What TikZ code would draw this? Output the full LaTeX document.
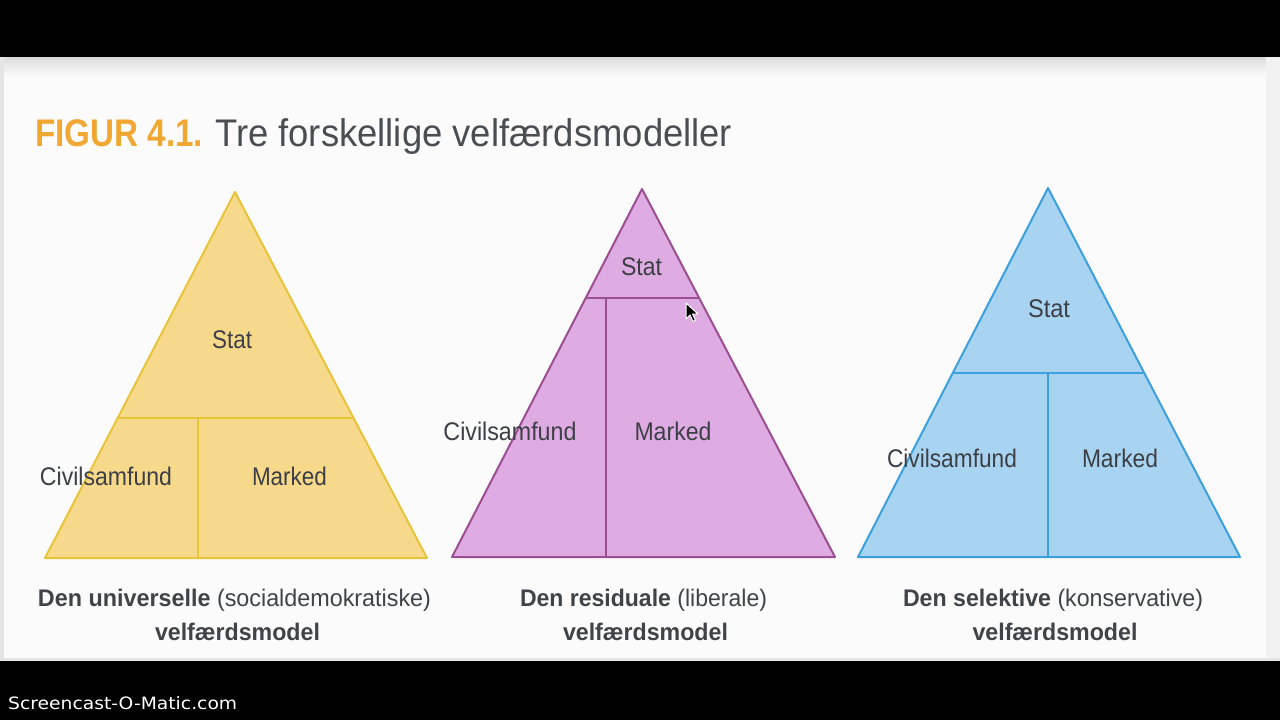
\documentclass[tikz,border=0pt]{standalone}
\usepackage{fontspec}
\setmainfont{Liberation Sans}
\newfontfamily\scfont{DejaVu Sans}
\usepackage{graphicx}
\usetikzlibrary{calc}
\definecolor{paper}{HTML}{FBFBFB}
\definecolor{orangetitle}{HTML}{F0A833}
\definecolor{titlegray}{HTML}{4A4E52}
\definecolor{labelgray}{HTML}{3C3F45}
\definecolor{capgray}{HTML}{404347}
\definecolor{yfill}{HTML}{F7D98C}
\definecolor{ydraw}{HTML}{E8C43A}
\definecolor{pfill}{HTML}{DEACE2}
\definecolor{pdraw}{HTML}{9C4E93}
\definecolor{bfill}{HTML}{A8D4F2}
\definecolor{bdraw}{HTML}{3CA0DC}
\newcommand{\fitw}[2]{\resizebox{#1pt}{\height}{#2}}
\begin{document}
\begin{tikzpicture}[x=1pt,y=-1pt,
  tri/.style={line width=2pt, line join=round},
  divline/.style={line width=2pt},
  lbl/.style={inner sep=0pt, anchor=base, text=labelgray, font=\fontsize{25.5}{30}\selectfont},
  capline/.style={inner sep=0pt, anchor=base, text=capgray, font=\fontsize{24}{28}\selectfont},
  titletext/.style={inner sep=0pt, anchor=base west, font=\fontsize{38.5}{44}\selectfont}]
\useasboundingbox (0,0) rectangle (1280,720);
% screen frame
\fill[black] (0,0) rectangle (1280,720);
\fill[paper] (0,57) rectangle (1280,661);
\foreach \i/\g in {0/86,3/89,6/91.5,9/93.5,12/95,15/96.5,18/98}{
  \fill[color=white!\g!black] (0,57+\i) rectangle (1280,60+\i);
}
\fill[white!90!black] (0,57) rectangle (4,661);
\fill[white!95!black] (1266,57) rectangle (1280,661);
\fill[white!90!black] (0,658) rectangle (1280,661);

% title
\node[titletext, text=orangetitle] (fig) at (35,146.5) {\fitw{168}{\bfseries FIGUR 4.1.}};
\node[titletext, text=titlegray] (title) at (215,146.5) {\fitw{517}{Tre forskellige velfærdsmodeller}};

% ---------- yellow triangle ----------
\coordinate (A1) at (235,192);
\coordinate (B1) at (45,558);
\coordinate (C1) at (427,558);
\coordinate (L1) at ($(A1)!0.6175!(B1)$);
\coordinate (R1) at ($(A1)!0.6175!(C1)$);
\coordinate (T1) at (198,418);
\coordinate (D1) at (198,558);
\filldraw[tri, fill=yfill, draw=ydraw] (A1) -- (B1) -- (C1) -- cycle;
\draw[divline, ydraw] (L1) -- (R1);
\draw[divline, ydraw] (T1) -- (D1);
\node[lbl] (stat1) at (232,348) {\fitw{40}{Stat}};
\node[lbl] (civ1) at (106,485) {\fitw{132}{Civilsamfund}};
\node[lbl] (mar1) at (289.5,485) {\fitw{75}{Marked}};

% ---------- purple triangle ----------
\coordinate (A2) at (642,189);
\coordinate (B2) at (452,557);
\coordinate (C2) at (835,557);
\coordinate (L2) at ($(A2)!0.296!(B2)$);
\coordinate (R2) at ($(A2)!0.296!(C2)$);
\coordinate (T2) at (606,298);
\coordinate (D2) at (606,557);
\filldraw[tri, fill=pfill, draw=pdraw] (A2) -- (B2) -- (C2) -- cycle;
\draw[divline, pdraw] (L2) -- (R2);
\draw[divline, pdraw] (T2) -- (D2);
\node[lbl] (stat2) at (641.5,275) {\fitw{41}{Stat}};
\node[lbl] (civ2) at (510,440) {\fitw{133}{Civilsamfund}};
\node[lbl] (mar2) at (673,440) {\fitw{77}{Marked}};

% ---------- blue triangle ----------
\coordinate (A3) at (1048,188);
\coordinate (B3) at (858,557);
\coordinate (C3) at (1240,557);
\coordinate (L3) at ($(A3)!0.501!(B3)$);
\coordinate (R3) at ($(A3)!0.501!(C3)$);
\coordinate (T3) at (1048,373);
\coordinate (D3) at (1048,557);
\filldraw[tri, fill=bfill, draw=bdraw] (A3) -- (B3) -- (C3) -- cycle;
\draw[divline, bdraw] (L3) -- (R3);
\draw[divline, bdraw] (T3) -- (D3);
\node[lbl] (stat3) at (1049,317) {\fitw{42}{Stat}};
\node[lbl] (civ3) at (952,467) {\fitw{130}{Civilsamfund}};
\node[lbl] (mar3) at (1120,467) {\fitw{76}{Marked}};

% mouse cursor
\coordinate (cur) at (686,303);
\filldraw[fill=black, draw=white, line width=1pt, line join=round]
  (cur) -- ++(0,16) -- ++(4,-4) -- ++(3,6.5) -- ++(2.5,-1.2) -- ++(-3,-6.3) -- ++(5.5,0) -- cycle;

% captions
\node[capline] (cap1a) at (234.5,606) {\fitw{393}{\textbf{Den universelle} (socialdemokratiske)}};
\node[capline] (cap1b) at (237.5,640) {\fitw{165}{\textbf{velfærdsmodel}}};
\node[capline] (cap2a) at (643.5,606) {\fitw{247}{\textbf{Den residuale} (liberale)}};
\node[capline] (cap2b) at (645.5,640) {\fitw{165}{\textbf{velfærdsmodel}}};
\node[capline] (cap3a) at (1053,606) {\fitw{300}{\textbf{Den selektive} (konservative)}};
\node[capline] (cap3b) at (1055,640) {\fitw{165}{\textbf{velfærdsmodel}}};

% watermark
\node[inner sep=0pt, anchor=base west, text=white, font=\scfont\fontsize{17}{20}\selectfont] (wm) at (8,709) {\fitw{229}{Screencast-O-Matic.com}};
\end{tikzpicture}
\end{document}
